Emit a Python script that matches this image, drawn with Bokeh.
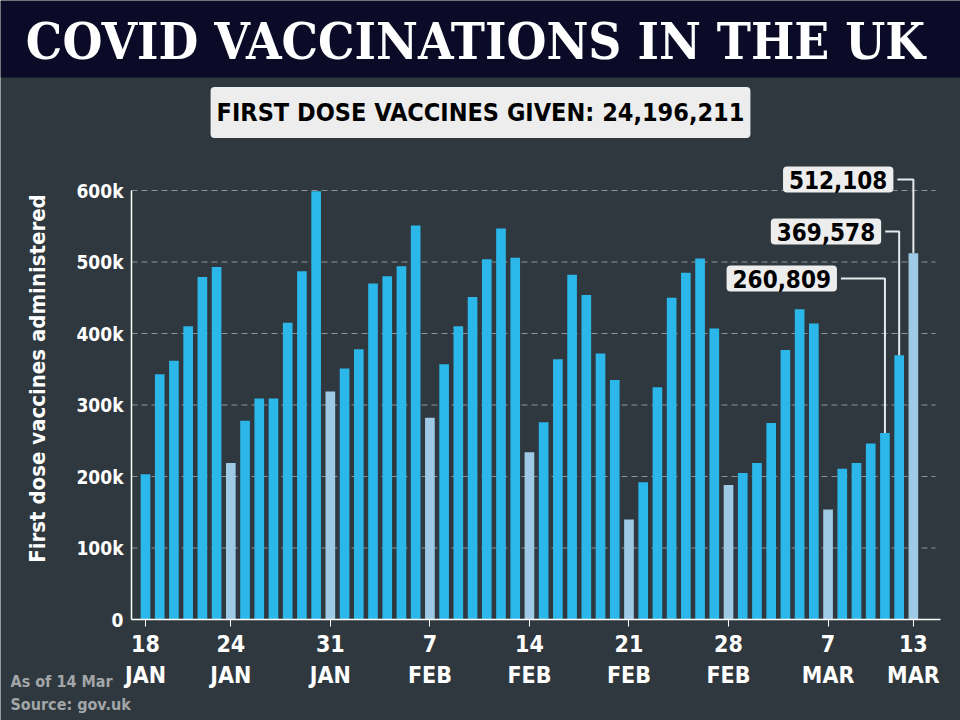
import math
import pandas as pd
from bokeh.plotting import figure
from bokeh.models import Range1d, FixedTicker, Label, ColumnDataSource, BoxAnnotation
from bokeh.embed import file_html
from bokeh.resources import INLINE

# ---------------- data ----------------
dates = pd.date_range("2021-01-18", "2021-03-13", freq="D")
first_doses = [
    203000, 343000, 362000, 410000, 479000, 493000, 219000, 278000, 309000, 309000,
    415000, 487000, 599000, 319000,
    351000, 378000, 470000, 480000, 494000, 551000, 282000,
    357000, 410000, 451000, 504000, 547000, 506000, 234000,
    276000, 364000, 482000, 454000, 372000, 335000, 140000,
    192000, 325000, 450000, 485000, 505000, 407000, 188000,
    205000, 219000, 275000, 377000, 434000, 414000, 154000,
    211000, 219000, 246000, 260809, 369578, 512108,
]
tick_dates = ["2021-01-18", "2021-01-24", "2021-01-31", "2021-02-07", "2021-02-14",
              "2021-02-21", "2021-02-28", "2021-03-07", "2021-03-13"]
tick_labels = ["18\nJAN", "24\nJAN", "31\nJAN", "7\nFEB", "14\nFEB",
               "21\nFEB", "28\nFEB", "7\nMAR", "13\nMAR"]
y_ticks = [0, 100000, 200000, 300000, 400000, 500000, 600000]
y_tick_labels = ["0", "100k", "200k", "300k", "400k", "500k", "600k"]
callout_dates = ["2021-03-11", "2021-03-12", "2021-03-13"]
callout_texts = ["260,809", "369,578", "512,108"]
title_text = "COVID VACCINATIONS IN THE UK"
subtitle_text = "FIRST DOSE VACCINES GIVEN: 24,196,211"
y_label = "First dose vaccines administered"
notes = ["As of 14 Mar", "Source: gov.uk"]

# ---------------- layout / style ----------------
W, H = 960, 720
X0_PX = 145.0        # canvas x of first bar centre
PX_PER_DAY = 14.22
BASE_PX = 619.0      # canvas y of the zero line
PX_PER_100K = 71.5


def xd(px):
    """canvas pixel x -> data x (layout helper)"""
    return (px - X0_PX) / PX_PER_DAY


def yd(py):
    """canvas pixel y (from top) -> data y (layout helper)"""
    return (BASE_PX - py) / PX_PER_100K * 100000


NAVY = "#0c0b27"
BG = "#2e383e"
BAR = "#2cb7ea"
BAR_LIGHT = "#9fcae6"
SANS = "DejaVu Sans Condensed"
SERIF = "DejaVu Serif Condensed"

idx = list(range(len(dates)))
last = len(dates) - 1
colors = [BAR_LIGHT if (d.dayofweek == 6 or i == last) else BAR for i, d in enumerate(dates)]
pos = {d.strftime("%Y-%m-%d"): i for i, d in enumerate(dates)}

p = figure(width=W, height=H, output_backend="svg", toolbar_location=None,
           x_range=Range1d(xd(0), xd(W)), y_range=Range1d(yd(H), yd(0)),
           min_border=0, background_fill_color=BG, border_fill_color=BG,
           outline_line_color=None)

# header band
p.add_layout(BoxAnnotation(bottom=yd(77), fill_color=NAVY, fill_alpha=1.0, line_color=None,
                           level="underlay"))

# dashed grid lines (only over the plotting area)
grid_y = y_ticks[1:]
p.segment(x0=[xd(131)] * len(grid_y), y0=grid_y, x1=[xd(935)] * len(grid_y), y1=grid_y,
          line_color="#8a949a", line_dash="6 4", line_width=1, level="underlay")

src = ColumnDataSource(dict(x=idx, top=first_doses, color=colors))
p.vbar(x="x", top="top", width=0.68, fill_color="color", line_color=None, source=src)

# ---------------- axes ----------------
xt = [pos[d] for d in tick_dates]
xa = p.xaxis[0]
xa.fixed_location = 0
xa.bounds = (xd(131), xd(940))
xa.ticker = FixedTicker(ticks=xt)
xa.major_label_overrides = {t: l for t, l in zip(xt, tick_labels)}
xa.major_label_text_font = SANS
xa.major_label_text_font_style = "bold"
xa.major_label_text_font_size = "23px"
xa.major_label_text_color = "white"
xa.major_label_text_line_height = 1.2
xa.major_label_standoff = 4
xa.major_tick_out = 7
xa.major_tick_in = 0
xa.major_tick_line_color = "white"
xa.minor_tick_line_color = None
xa.axis_line_color = "white"
xa.axis_line_width = 1.5

ya = p.yaxis[0]
ya.fixed_location = xd(131)
ya.bounds = (0, 600000)
ya.ticker = FixedTicker(ticks=y_ticks)
ya.major_label_overrides = {t: l for t, l in zip(y_ticks, y_tick_labels)}
ya.major_label_text_font = SANS
ya.major_label_text_font_style = "bold"
ya.major_label_text_font_size = "19px"
ya.major_label_text_color = "white"
ya.major_label_standoff = 8
ya.major_tick_out = 0
ya.major_tick_in = 0
ya.minor_tick_line_color = None
ya.axis_line_color = "white"
ya.axis_line_width = 1.5

p.xgrid.visible = False
p.ygrid.visible = False

# y axis title (rotated)
p.add_layout(Label(x=xd(37), y=yd(378), angle=math.pi / 2, text=y_label,
                   text_align="center", text_baseline="middle", text_color="white",
                   text_font=SANS, text_font_style="bold", text_font_size="22px"))

# ---------------- texts ----------------
p.add_layout(Label(x=xd(475), y=yd(40), text=title_text, text_align="center",
                   text_baseline="middle", text_color="white", text_font=SERIF,
                   text_font_style="bold", text_font_size="51px"))

p.add_layout(Label(x=xd(480), y=yd(112), text=subtitle_text, text_align="center",
                   text_baseline="middle", text_color="black", text_font=SANS,
                   text_font_style="bold", text_font_size="25px",
                   background_fill_color="#ededed", padding=(6, 11), border_radius=4))

# callouts
callout_line_y = [278, 231, 179]   # canvas y of the leader lines
callout_dx_px = [-44, -14, -16]    # box right edge relative to bar centre
xs, ys = [], []
for d, txt, ly, dx in zip(callout_dates, callout_texts, callout_line_y, callout_dx_px):
    i = pos[d]
    v = first_doses[i]
    xr = i + dx / PX_PER_DAY
    xs.append([xr, i, i])
    ys.append([yd(ly), yd(ly), v])
    p.add_layout(Label(x=xr, y=yd(ly), x_offset=-4, text=txt, text_align="right",
                       text_baseline="middle", text_color="black", text_font=SANS,
                       text_font_style="bold", text_font_size="24px",
                       background_fill_color="#ededed", padding=(6, 4), border_radius=4))
p.multi_line(xs=xs, ys=ys, line_color="#e6e9eb", line_width=2)

# footnotes
for txt, base in zip(notes, [681, 704]):
    p.add_layout(Label(x=xd(10), y=yd(base), text=txt, text_align="left",
                       text_baseline="alphabetic", text_color="#a2a6a8", text_font=SANS,
                       text_font_style="bold", text_font_size="16px"))

open("out.html", "w").write(file_html(p, INLINE))
